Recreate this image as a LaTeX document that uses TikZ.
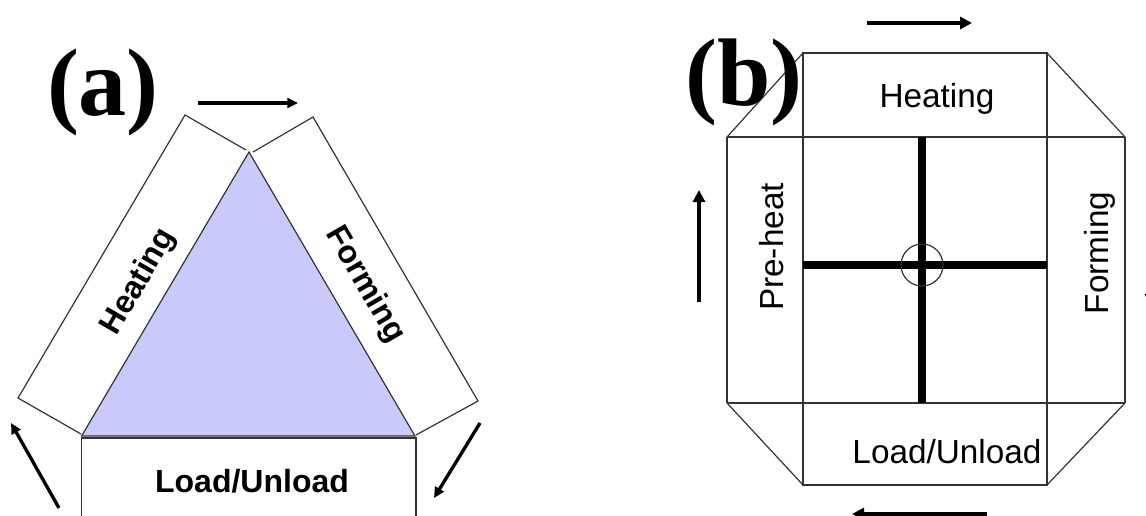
\documentclass[tikz,border=0pt]{standalone}
\usepackage{fontspec}
\setmainfont{Liberation Serif}
\setsansfont{Liberation Sans}
\usetikzlibrary{arrows.meta}
\definecolor{lav}{RGB}{202,202,250}
\begin{document}
\begin{tikzpicture}[x=0.75pt,y=-0.75pt,
  edge/.style={draw=black!80, line width=0.9pt},
  flow/.style={line width=2.5pt, -{Triangle[length=8pt,width=7.5pt]}},
  flowb/.style={line width=2.8pt, -{Triangle[length=9pt,width=9pt]}},
  laba/.style={font=\sffamily\bfseries\fontsize{24}{28}\selectfont, inner sep=0pt},
  labb/.style={font=\sffamily\fontsize{25}{30}\selectfont, inner sep=0pt},
  tag/.style={font=\bfseries\fontsize{72}{80}\selectfont, inner sep=0pt},
  bar/.style={line width=6pt}]
\useasboundingbox (0,0) rectangle (1146,515);
\clip (0,0) rectangle (1146,515);
% ---------- (a) ----------
\coordinate (ap) at (249,152);
\coordinate (bl) at (81.6,436);
\coordinate (br) at (415,436);
\coordinate (hit) at (246,150);
\coordinate (hib) at (81,434);
\coordinate (hob) at (18,398);
\coordinate (hot) at (185,115);
\coordinate (fit) at (253,152);
\coordinate (fot) at (313,117);
\coordinate (fob) at (478,401);
\coordinate (fib) at (416,435);
\coordinate (lt1) at (81.6,438);
\coordinate (lt2) at (416,438);
\coordinate (lb1) at (81.6,530);
\coordinate (lb2) at (416,530);
\fill[lav] (ap) -- (bl) -- (br) -- cycle;
\draw[edge] (ap) -- (bl) -- (br) -- cycle;
\draw[edge] (hit) -- (hot) -- (hob) -- (hib);
\draw[edge] (fit) -- (fot) -- (fob) -- (fib);
\draw[edge] (lb1) -- (lt1) -- (lt2) -- (lb2);
\node[laba, anchor=base] (loada) at (252,492) {Load/Unload};
\node[laba, rotate=60] (heata) at (139,282) {Heating};
\node[laba, rotate=-60] (forma) at (365,285) {Forming};
\coordinate (a1s) at (198,103); \coordinate (a1e) at (298,103);
\coordinate (a2s) at (59,508); \coordinate (a2e) at (11,423);
\coordinate (a3s) at (480,423); \coordinate (a3e) at (434,498);
\draw[flow] (a1s) -- (a1e);
\draw[flow] (a2s) -- (a2e);
\draw[flow] (a3s) -- (a3e);
\node[tag] (taga) at (103,92) {(a)};
% ---------- (b) ----------
\coordinate (LT) at (727,137); \coordinate (RT) at (1125,137);
\coordinate (LB) at (727,403); \coordinate (RB) at (1125,403);
\coordinate (lT) at (803,53);  \coordinate (rT) at (1047,53);
\coordinate (lB) at (803,485); \coordinate (rB) at (1047,485);
\draw[edge] (lT) rectangle (rB);
\draw[edge] (LT) -- (RT);
\draw[edge] (LB) -- (RB);
\draw[edge] (LT) -- (LB);
\draw[edge] (RT) -- (RB);
\draw[edge] (LT) -- (lT);
\draw[edge] (rT) -- (RT);
\draw[edge] (LB) -- (lB);
\draw[edge] (rB) -- (RB);
\coordinate (ctr) at (922,265);
\coordinate (vt) at (922,137); \coordinate (vb) at (922,403);
\coordinate (hl) at (803,265); \coordinate (hr) at (1047,265);
\draw[bar] (vt) -- (vb);
\draw[bar] (hl) -- (hr);
\draw[edge] (ctr) circle[radius=21];
\node[labb, anchor=base] (heatb) at (937,107) {Heating};
\node[labb, anchor=base, rotate=90] (preb) at (783,247) {Pre-heat};
\node[labb, anchor=base, rotate=90] (formb) at (1108,253) {Forming};
\node[labb, anchor=base] (loadb) at (947,463) {Load/Unload};
\coordinate (b1s) at (867,23); \coordinate (b1e) at (972,23);
\coordinate (b2s) at (699,302); \coordinate (b2e) at (699,190);
\coordinate (b3s) at (987,514); \coordinate (b3e) at (852,514);
\coordinate (b4s) at (1151,192); \coordinate (b4e) at (1151,306);
\draw[flowb] (b1s) -- (b1e);
\draw[flowb] (b2s) -- (b2e);
\draw[flowb] (b3s) -- (b3e);
\draw[flowb] (b4s) -- (b4e);
\node[tag] (tagb) at (744,82) {(b)};
\end{tikzpicture}
\end{document}
